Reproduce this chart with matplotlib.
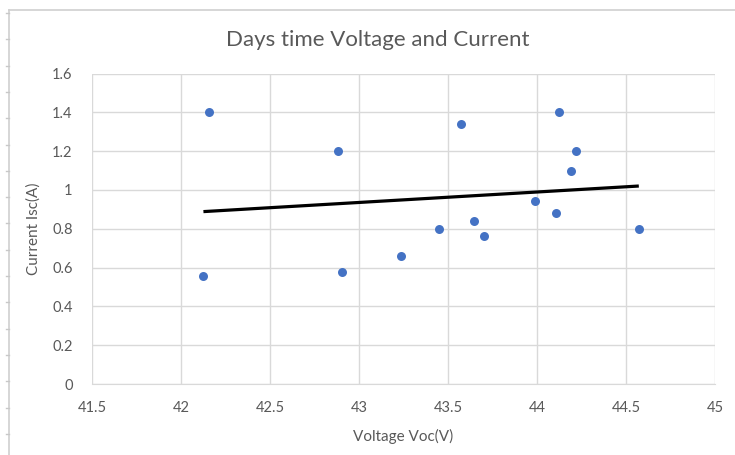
import numpy as np
import matplotlib
matplotlib.use("Agg")
import matplotlib.pyplot as plt
from matplotlib.lines import Line2D

# voltage / current readings
voltage = [42.155, 42.126, 42.881, 42.902, 43.237, 43.450, 43.574, 43.648,
           43.700, 43.989, 44.107, 44.124, 44.189, 44.217, 44.572]
current = [1.40, 0.555, 1.20, 0.577, 0.659, 0.80, 1.342, 0.841,
           0.761, 0.942, 0.882, 1.40, 1.097, 1.20, 0.80]

x_ticks = [41.5, 42, 42.5, 43, 43.5, 44, 44.5, 45]
y_ticks = [0, 0.2, 0.4, 0.6, 0.8, 1.0, 1.2, 1.4, 1.6]
y_tick_labels = ["0", "0.2", "0.4", "0.6", "0.8", "1", "1.2", "1.4", "1.6"]

plt.rcParams["font.family"] = ["Lato", "DejaVu Sans"]
text_col = "#595959"
grid_col = "#D9D9D9"

fig = plt.figure(figsize=(7.35, 4.55), dpi=100)
ax = fig.add_axes([92 / 735, 71 / 455, 623 / 735, 310.5 / 455])

# points
ax.scatter(voltage, current, s=42, color="#4472C4", zorder=3, linewidths=0)

# linear trendline over the data range
k, b = np.polyfit(voltage, current, 1)
xs = np.array([min(voltage), max(voltage)])
ax.plot(xs, k * xs + b, color="black", lw=2.3, zorder=4, solid_capstyle="butt")

ax.set_xlim(41.5, 45)
ax.set_ylim(0, 1.6)
ax.set_xticks(x_ticks)
ax.set_xticklabels([f"{v:g}" for v in x_ticks])
ax.set_yticks(y_ticks)
ax.set_yticklabels(y_tick_labels)
ax.grid(True, color=grid_col, lw=1)
ax.set_axisbelow(True)
for side in ["top", "right", "left"]:
    ax.spines[side].set_visible(False)
ax.spines["bottom"].set_color(grid_col)
ax.tick_params(length=0, labelsize=10.5, colors=text_col, pad=12)
ax.tick_params(axis="y", pad=14)

ax.set_xlabel("Voltage Voc(V)", fontsize=11, color=text_col, labelpad=10)
ax.set_ylabel("Current Isc(A)", fontsize=11, color=text_col, labelpad=8)
fig.text(378 / 735, 1 - 40 / 455, "Days time Voltage and Current",
         ha="center", va="center", fontsize=16, color=text_col)

# border lines of the surrounding frame, with ruler ticks on the left
fig.add_artist(Line2D([8.5 / 735, 1], [1 - 9.5 / 455] * 2, color="#D0D0D0", lw=1.2))
fig.add_artist(Line2D([8.5 / 735] * 2, [0, 1 - 9.5 / 455], color="#D0D0D0", lw=1.2))
for i in range(17):
    yy = 1 - (13 + 26.3 * i) / 455
    fig.add_artist(Line2D([5.5 / 735, 8.5 / 735], [yy, yy], color="#C8C8C8", lw=1))

fig.savefig("out.png", dpi=100)
